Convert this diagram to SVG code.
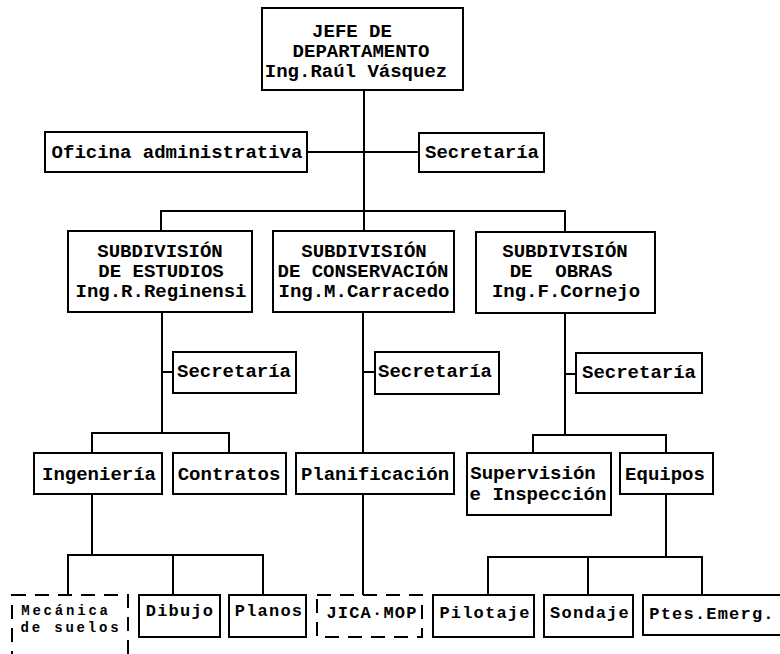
<svg xmlns="http://www.w3.org/2000/svg" width="780" height="654" viewBox="0 0 780 654">
<style>
  .box { fill: #ffffff; stroke: #000000; stroke-width: 2; }
  .dash { fill: #ffffff; stroke: #000000; stroke-width: 2; stroke-dasharray: 14 9; }
  .t { font-family: "Liberation Mono", "Courier New", monospace; font-weight: bold; font-size: 19px; fill: #000000; text-anchor: middle; }
  .s { font-family: "Liberation Mono", "Courier New", monospace; font-weight: bold; font-size: 17px; letter-spacing: 1.2px; fill: #000000; text-anchor: middle; }
  .m { font-family: "Liberation Mono", "Courier New", monospace; font-weight: bold; font-size: 14px; letter-spacing: 2.8px; fill: #000000; text-anchor: middle; }
  .c { fill: none; stroke: #000000; stroke-width: 2; }
</style>
<rect x="0" y="0" width="780" height="654" fill="#ffffff"/>
<g id="connectors">
  <path class="c" d="M364 90 V231"/>
  <path class="c" d="M307 152 H419"/>
  <path class="c" d="M161 231 V211 H565 V232"/>
  <path class="c" d="M162 312 V433"/>
  <path class="c" d="M162 372 H173"/>
  <path class="c" d="M92 453 V433 H229 V453"/>
  <path class="c" d="M363 312 V453"/>
  <path class="c" d="M363 372 H375"/>
  <path class="c" d="M565 313 V435"/>
  <path class="c" d="M565 374 H576"/>
  <path class="c" d="M533 453 V435 H666 V453"/>
  <path class="c" d="M92 494 V555"/>
  <path class="c" d="M68 595 V555 H263 V595"/>
  <path class="c" d="M173 555 V595"/>
  <path class="c" d="M363 494 V595"/>
  <path class="c" d="M666 494 V557"/>
  <path class="c" d="M488 595 V557 H702 V595"/>
  <path class="c" d="M588 557 V595"/>
</g>
<g id="jefe">
  <rect class="box" x="262" y="8" width="201" height="82"/>
  <text class="t" x="352" y="37">JEFE DE</text>
  <text class="t" x="361" y="57">DEPARTAMENTO</text>
  <text class="t" x="356" y="77">Ing.Raúl Vásquez</text>
</g>
<g id="oficina">
  <rect class="box" x="45" y="132" width="262" height="40"/>
  <text class="t" x="177" y="158">Oficina administrativa</text>
</g>
<g id="secretaria-jefe">
  <rect class="box" x="419" y="133" width="125" height="39"/>
  <text class="t" x="482" y="158">Secretaría</text>
</g>
<g id="estudios">
  <rect class="box" x="68" y="231" width="184" height="81"/>
  <text class="t" x="160" y="257">SUBDIVISIÓN</text>
  <text class="t" x="161" y="277">DE ESTUDIOS</text>
  <text class="t" x="161" y="297">Ing.R.Reginensi</text>
</g>
<g id="conservacion">
  <rect class="box" x="273" y="231" width="181" height="81"/>
  <text class="t" x="364" y="257">SUBDIVISIÓN</text>
  <text class="t" x="363" y="277">DE CONSERVACIÓN</text>
  <text class="t" x="364" y="297">Ing.M.Carracedo</text>
</g>
<g id="obras">
  <rect class="box" x="476" y="232" width="179" height="81"/>
  <text class="t" x="565" y="257">SUBDIVISIÓN</text>
  <text class="t" x="561" y="277" xml:space="preserve">DE  OBRAS</text>
  <text class="t" x="566" y="297">Ing.F.Cornejo</text>
</g>
<g id="secretaria-estudios">
  <rect class="box" x="173" y="352" width="123" height="41"/>
  <text class="t" x="234" y="377">Secretaría</text>
</g>
<g id="secretaria-conservacion">
  <rect class="box" x="375" y="352" width="124" height="42"/>
  <text class="t" x="435" y="377">Secretaría</text>
</g>
<g id="secretaria-obras">
  <rect class="box" x="576" y="353" width="126" height="40"/>
  <text class="t" x="639" y="378">Secretaría</text>
</g>
<g id="ingenieria">
  <rect class="box" x="34" y="453" width="128" height="41"/>
  <text class="t" x="99" y="480">Ingeniería</text>
</g>
<g id="contratos">
  <rect class="box" x="173" y="453" width="113" height="41"/>
  <text class="t" x="229" y="480">Contratos</text>
</g>
<g id="planificacion">
  <rect class="box" x="296" y="453" width="158" height="41"/>
  <text class="t" x="375" y="480">Planificación</text>
</g>
<g id="supervision">
  <rect class="box" x="467" y="453" width="144" height="62"/>
  <text class="t" x="533" y="479">Supervisión</text>
  <text class="t" x="538" y="500">e Inspección</text>
</g>
<g id="equipos">
  <rect class="box" x="620" y="453" width="93" height="41"/>
  <text class="t" x="665" y="480">Equipos</text>
</g>
<g id="mecanica">
  <rect class="dash" x="12" y="595" width="116" height="80"/>
  <text class="m" x="66" y="615">Mecánica</text>
  <text class="m" x="71" y="632">de suelos</text>
</g>
<g id="dibujo">
  <rect class="box" x="139" y="595" width="81" height="42"/>
  <text class="s" x="180" y="616">Dibujo</text>
</g>
<g id="planos">
  <rect class="box" x="229" y="595" width="77" height="42"/>
  <text class="s" x="269" y="616">Planos</text>
</g>
<g id="jica">
  <rect class="dash" x="317" y="595" width="105" height="42"/>
  <text class="s" x="372" y="618">JICA·MOP</text>
</g>
<g id="pilotaje">
  <rect class="box" x="433" y="595" width="101" height="42"/>
  <text class="s" x="485" y="618">Pilotaje</text>
</g>
<g id="sondaje">
  <rect class="box" x="544" y="595" width="89" height="42"/>
  <text class="s" x="590" y="618">Sondaje</text>
</g>
<g id="ptes">
  <rect class="box" x="643" y="595" width="160" height="40"/>
  <text class="s" x="712" y="619">Ptes.Emerg.</text>
</g>
</svg>
